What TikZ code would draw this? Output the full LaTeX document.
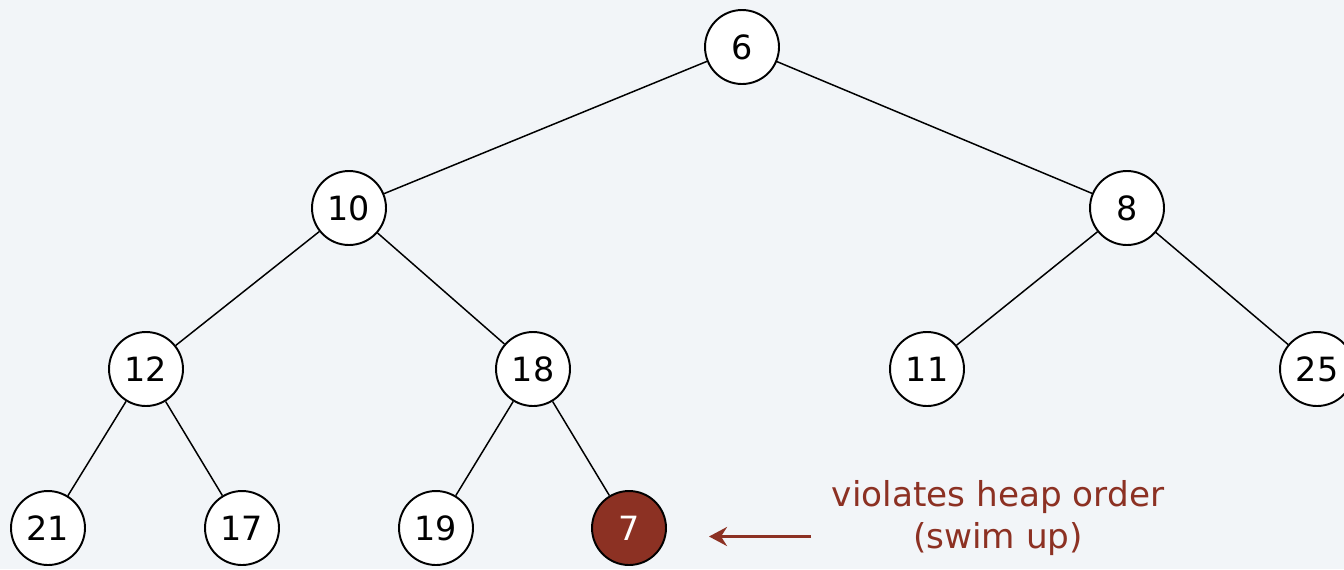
\documentclass[tikz,border=0pt]{standalone}
\usepackage{fontspec}
\setmainfont{DejaVu Sans}
\usetikzlibrary{arrows.meta}
\definecolor{swimred}{HTML}{8C3123}
\definecolor{paper}{HTML}{F2F5F8}

\begin{document}
\begin{tikzpicture}[x=0.02cm, y=-0.02cm, thick,
    every node/.style={font=\fontsize{19}{22}\selectfont},
    key/.style={draw, circle, fill=white, minimum size=1.48cm, inner sep=0pt, line width=1.1pt},
    link/.style={line width=0.85pt}]
            % Draw the background
            \fill[paper] (0,0) rectangle (1344,569);
            \useasboundingbox (0,0) rectangle (1344,569);
            \clip (0,0) rectangle (1344,569);

            % Draw the keys of the heap
            \node[key] (k6) at (742,47) {6};

            \node[key] (k10) at (349,208) {10};
            \node[key] (k8) at (1127,208) {8};

            \node[key] (k12) at (146,369) {12};
            \node[key] (k18) at (533,369) {18};
            \node[key] (k11) at (927,369) {11};
            \node[key] (k25) at (1317,369) {25};

            \node[key] (k21) at (48,528) {21};
            \node[key] (k17) at (242,528) {17};
            \node[key] (k19) at (436,528) {19};
            \node[key, fill=swimred, text=white] (k7) at (629,528) {7};

            % Draw the links between parent and child
            \draw[link] (k6) -- (k10);
            \draw[link] (k6) -- (k8);
            \draw[link] (k10) -- (k12);
            \draw[link] (k10) -- (k18);
            \draw[link] (k8) -- (k11);
            \draw[link] (k8) -- (k25);
            \draw[link] (k12) -- (k21);
            \draw[link] (k12) -- (k17);
            \draw[link] (k18) -- (k19);
            \draw[link] (k18) -- (k7);

            % Draw the note and its arrow
            \node[text=swimred, align=center, font=\fontsize{19.5}{24.4}\selectfont] (note) at (998,518) {violates heap order\\(swim up)};
            \coordinate (tail) at (811,536.5);
            \coordinate (head) at (709,536.5);
            \draw[swimred, line width=2.2pt, -{Stealth[length=3.6mm, width=3.8mm, inset=1.2mm]}] (tail) -- (head);
\end{tikzpicture}
\end{document}
